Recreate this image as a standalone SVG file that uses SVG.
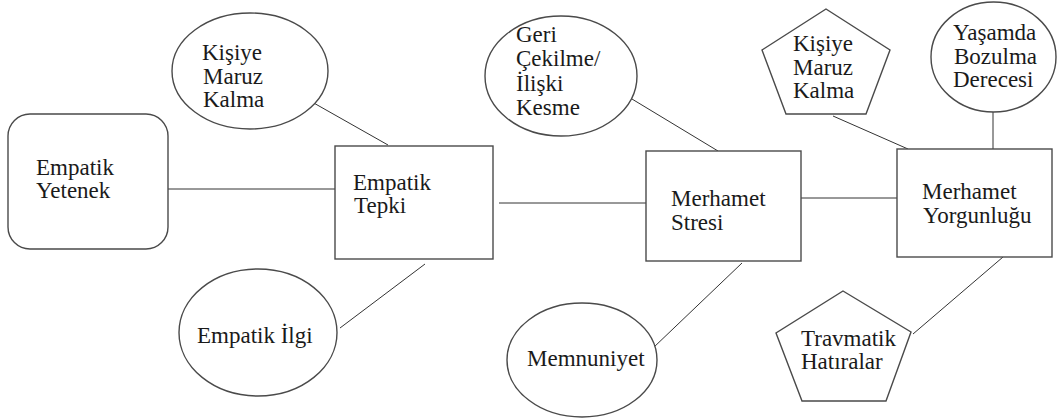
<svg xmlns="http://www.w3.org/2000/svg" width="1057" height="419" viewBox="0 0 1057 419">
<style>
.shape{fill:#fff;stroke:#4a4a4a;stroke-width:1.4}
.conn line{stroke:#333;stroke-width:1}
text{font-family:'Liberation Serif','Times New Roman','DejaVu Serif',serif;font-size:23px;fill:#1a1a1a}
</style>
<rect width="1057" height="419" fill="#fff"/>
<g id="conn" class="conn">
<line x1="168" y1="189" x2="342" y2="189"/>
<line x1="312" y1="102" x2="388" y2="145"/>
<line x1="425" y1="264" x2="340" y2="328"/>
<line x1="499" y1="203" x2="646" y2="203"/>
<line x1="627" y1="96" x2="718" y2="151"/>
<line x1="742" y1="263" x2="653" y2="348"/>
<line x1="801" y1="198" x2="899" y2="198"/>
<line x1="833" y1="116" x2="908" y2="149"/>
<line x1="993" y1="112" x2="993" y2="150"/>
<line x1="1003" y1="257" x2="913" y2="334"/>
</g>
<g id="empatik-yetenek">
<rect class="shape" x="8" y="114" width="160" height="135" rx="22"/>
<text x="36" y="175">Empatik</text>
<text x="36" y="198">Yetenek</text>
</g>
<g id="kisiye-maruz-1">
<ellipse class="shape" cx="250" cy="71" rx="78" ry="58"/>
<text x="202" y="60">Kişiye</text>
<text x="203" y="84">Maruz</text>
<text x="203" y="107">Kalma</text>
</g>
<g id="empatik-tepki">
<rect class="shape" x="335" y="146" width="158" height="113"/>
<text x="353" y="190">Empatik</text>
<text x="354" y="213">Tepki</text>
</g>
<g id="empatik-ilgi">
<ellipse class="shape" cx="258" cy="332.5" rx="79" ry="63.5"/>
<text x="197" y="343">Empatik İlgi</text>
</g>
<g id="geri-cekilme">
<ellipse class="shape" cx="561" cy="76" rx="76" ry="60"/>
<text x="516" y="42">Geri</text>
<text x="516" y="66">Çekilme/</text>
<text x="516" y="91">İlişki</text>
<text x="516" y="115">Kesme</text>
</g>
<g id="merhamet-stresi">
<rect class="shape" x="646" y="151" width="155" height="110"/>
<text x="671" y="206">Merhamet</text>
<text x="671" y="230">Stresi</text>
</g>
<g id="memnuniyet">
<ellipse class="shape" cx="582" cy="360" rx="75" ry="57"/>
<text x="527" y="366">Memnuniyet</text>
</g>
<g id="kisiye-maruz-2">
<polygon class="shape" points="826,9 890,50 866,114 786,114 762,50"/>
<text x="793" y="51">Kişiye</text>
<text x="793" y="75">Maruz</text>
<text x="793" y="98">Kalma</text>
</g>
<g id="yasamda-bozulma">
<ellipse class="shape" cx="993.5" cy="57" rx="62.5" ry="55"/>
<text x="953" y="40">Yaşamda</text>
<text x="954" y="64">Bozulma</text>
<text x="953" y="87">Derecesi</text>
</g>
<g id="merhamet-yorgunlugu">
<rect class="shape" x="897" y="149" width="155" height="108"/>
<text x="922" y="199">Merhamet</text>
<text x="923" y="223">Yorgunluğu</text>
</g>
<g id="travmatik-hatiralar">
<polygon class="shape" points="843,291 911,332 886,401 802,401 776,333"/>
<text x="801" y="346">Travmatik</text>
<text x="801" y="369">Hatıralar</text>
</g>
</svg>
